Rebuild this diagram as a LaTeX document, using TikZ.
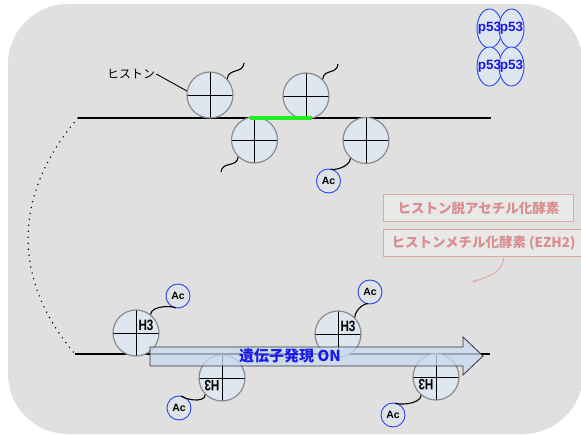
\documentclass[tikz,border=0pt]{standalone}
\usepackage{fontspec}
\setmainfont{Liberation Sans}
\newfontfamily\jp{Noto Sans CJK JP}
\usepackage{tikz}
\usetikzlibrary{arrows.meta}
\usetikzlibrary{calc}
\usetikzlibrary{shapes.geometric, arrows}
\definecolor{bggray}{RGB}{224,224,224}
\definecolor{histfill}{RGB}{222,230,240}
\definecolor{histedge}{RGB}{140,140,140}
\definecolor{acblue}{RGB}{40,70,240}
\definecolor{textblue}{RGB}{25,25,235}
\definecolor{pinkline}{RGB}{228,165,165}
\definecolor{pinktext}{RGB}{218,142,142}
\definecolor{genefill}{RGB}{200,218,240}
\definecolor{dnagreen}{RGB}{30,240,30}
\tikzstyle{histone} = [circle, minimum size=46pt, inner sep=0pt, draw=histedge, line width=1.2pt, fill=histfill,
  path picture={\draw[black, line width=0.9pt] (path picture bounding box.north) -- (path picture bounding box.south)
    (path picture bounding box.west) -- (path picture bounding box.east);}]
\tikzstyle{hlabel} = [inner sep=0pt, font=\fontsize{15}{15}\selectfont\bfseries, xscale=0.78]
\tikzstyle{acetyl} = [circle, minimum size=24pt, inner sep=0pt, draw=acblue, line width=0.9pt, fill=histfill!40!bggray, font=\fontsize{10.5}{10.5}\selectfont\bfseries]
\tikzstyle{tail} = [line width=1.1pt]
\tikzstyle{dna} = [line width=1.3pt]
\tikzstyle{tetramer} = [ellipse, minimum width=25pt, minimum height=39pt, inner sep=0pt, draw=acblue, line width=0.9pt, fill=histfill]
\tikzstyle{tetratext} = [inner sep=0pt, text=textblue, font=\fontsize{13.5}{13.5}\selectfont\bfseries]
\tikzstyle{enzyme} = [rectangle, draw=pinkline, line width=1pt, fill=white!30!bggray, text=pinktext, font=\jp\fontsize{13.5}{13.5}\selectfont\bfseries, minimum height=27pt, inner xsep=8pt]
\tikzstyle{arrow} = [pinkline, line width=0.9pt, ->, >=stealth]

\begin{document}
\begin{tikzpicture}[x=1pt, y=-1pt]
\useasboundingbox (0,0) rectangle (581,435);
\fill[bggray, rounded corners=60pt] (8,4) rectangle (583,434);

% DNA strands
\coordinate (dnaTopL) at (78,118);
\coordinate (dnaTopR) at (491,118);
\coordinate (dnaBotL) at (75,354);
\coordinate (dnaBotR) at (490,354);
\draw[dash pattern=on 0pt off 6pt, line cap=round, line width=1.6pt] (dnaTopL) .. controls (12,195) and (12,280) .. (dnaBotL);
\draw[dna] (dnaTopL) -- (dnaTopR);
\draw[dna] (dnaBotL) -- (dnaBotR);

% closed chromatin
\node (h1) [histone] at (210,95) {};
\node (h2) [histone] at (306,96) {};
\node (h3) [histone] at (254.5,140) {};
\node (h4) [histone] at (366,140.5) {};
\coordinate (g1) at (250,118);
\coordinate (g2) at (312,118);
\draw[dnagreen, line width=3.2pt] (g1) -- (g2);
\node (lbl) [font=\jp\fontsize{12}{12}\selectfont, inner sep=1pt] at (131,74) {ヒストン};
\draw[line width=0.9pt] (lbl.east) -- (h1.170);
\coordinate (t1) at (244,63);
\coordinate (t2) at (338,64);
\coordinate (t3) at (221,172);
\node (ac1) [acetyl] at (328.5,181) {Ac};
\draw[tail] (h1.43) .. controls +(1,-11) and +(-1,11) .. (t1);
\draw[tail] (h2.45) .. controls +(1,-11) and +(-1,11) .. (t2);
\draw[tail] (h3.226) .. controls +(-1,11) and +(1,-11) .. (t3);
\draw[tail] (h4.229) .. controls +(-1,10) and +(2,-10) .. (ac1);

% open chromatin
\node (b1) [histone] at (136,333) {};
\node (b2) [histone] at (222,378) {};
\node (b3) [histone] at (338,334) {};
\node (b4) [histone] at (436,377) {};
\node [hlabel] at ($(b1)+(10,-8)$) {H3};
\node [hlabel, rotate=180] at ($(b2)+(-10,8)$) {H3};
\node [hlabel] at ($(b3)+(10,-8)$) {H3};
\node [hlabel, rotate=180] at ($(b4)+(-10,8)$) {H3};
\node (ac2) [acetyl] at (178,296) {Ac};
\node (ac3) [acetyl] at (179,408) {Ac};
\node (ac4) [acetyl] at (370,292) {Ac};
\node (ac5) [acetyl] at (393,415) {Ac};
\draw[tail] (b1.52) .. controls +(1,-10) and +(-2,10) .. (ac2);
\draw[tail] (b2.225) .. controls +(-1,10) and +(2,-10) .. (ac3);
\draw[tail] (b3.45) .. controls +(1,-10) and +(-2,10) .. (ac4);
\draw[tail] (b4.231) .. controls +(-1,10) and +(2,-10) .. (ac5);

% transcription arrow
\draw[fill=genefill, fill opacity=0.75, draw=black!80, line width=0.8pt]
  (150,347) -- (463,347) -- (463,337) -- (483,356) -- (463,375) -- (463,366) -- (150,366) -- cycle;
\node (gene) [text=textblue, font=\jp\fontsize{15}{15}\selectfont\bfseries] at (290,356) {遺伝子発現 ON};

% enzymes
\node (hdac) [enzyme, minimum width=190pt, anchor=west] at (383,208) {ヒストン脱アセチル化酵素};
\node (ezh2) [enzyme, anchor=west] at (383,243.5) {ヒストンメチル化酵素 (EZH2)};
\coordinate (pinktip) at (472,282);
\draw[arrow] ($(ezh2.south)+(20,0)$) .. controls +(0,16) and +(12,-4) .. (pinktip);

% p53 tetramer
\node (p53a) [tetramer] at (489.5,28.5) {};
\node (p53b) [tetramer] at (511.5,28.5) {};
\node (p53c) [tetramer] at (489.5,66.5) {};
\node (p53d) [tetramer] at (511.5,66.5) {};
\foreach \p in {p53a,p53b,p53c,p53d}
  \node [tetratext] at (\p) {p53};
\end{tikzpicture}
\end{document}
